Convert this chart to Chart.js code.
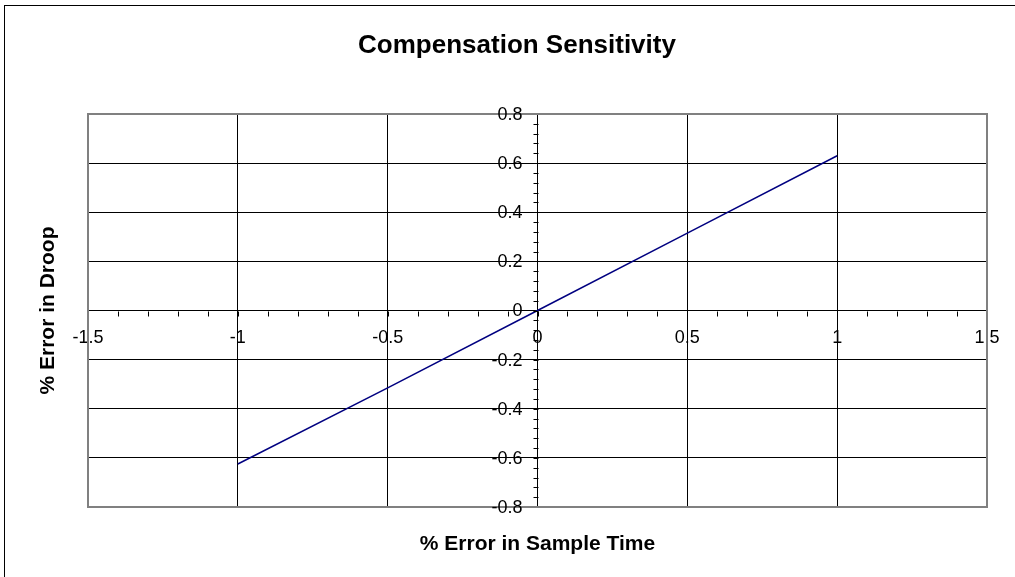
<!DOCTYPE html>
<html>
<head>
<meta charset="utf-8">
<script src="https://cdn.jsdelivr.net/npm/chart.js@4/dist/chart.umd.min.js"></script>
<style>
    html, body { margin: 0; padding: 0; background: #ffffff; }
    #canvas-holder { position: relative; width: 1015px; height: 577px; }
</style>
</head>
<body>
<div id="canvas-holder"><canvas id="chart"></canvas></div>
<script>
const chartTitle = 'Compensation Sensitivity';
const xTitle = '% Error in Sample Time';
const yTitle = '% Error in Droop';

// % error in sample time vs % error in droop
const sampleTimeError = [-1, -0.5, 0, 0.5, 1];
const droopError = [-0.625, -0.315, 0, 0.315, 0.63];

const xTicks = [-1.5, -1, -0.5, 0, 0.5, 1, 1.5];
const yTicks = [-0.8, -0.6, -0.4, -0.2, 0, 0.2, 0.4, 0.6, 0.8];

const FONT = 'Arial, "Liberation Sans", sans-serif';

// minor ticks, y labels, plot frame, titles and outer border (Excel look)
const excelFrame = {
    id: 'excelFrame',
    afterDraw: (chart) => {
        const ctx = chart.ctx;
        const a = chart.chartArea;
        const x = chart.scales.x;
        const y = chart.scales.y;
        const x0 = Math.round(x.getPixelForValue(0)) + 0.5;
        const y0 = Math.round(y.getPixelForValue(0)) + 0.5;
        ctx.save();
        ctx.strokeStyle = '#000000';
        ctx.lineWidth = 1;
        ctx.beginPath();
        for (let i = -15; i <= 15; i++) {
            const px = Math.round(x.getPixelForValue(i / 10)) + 0.5;
            ctx.moveTo(px, y0);
            ctx.lineTo(px, y0 + 5);
        }
        for (let i = -20; i <= 20; i++) {
            const py = Math.round(y.getPixelForValue(i * 0.04)) + 0.5;
            ctx.moveTo(x0, py);
            ctx.lineTo(x0 - 5, py);
        }
        ctx.stroke();

        ctx.strokeStyle = '#808080';
        ctx.lineWidth = 2;
        ctx.strokeRect(a.left, a.top, a.right - a.left, a.bottom - a.top);

        ctx.strokeStyle = '#000000';
        ctx.lineWidth = 1;
        ctx.strokeRect(4.5, 5.5, 1100, 700);

        ctx.fillStyle = '#000000';
        ctx.textBaseline = 'middle';

        // y tick labels sit left of the crossing axis
        ctx.font = '18px ' + FONT;
        ctx.textAlign = 'right';
        yTicks.forEach(v => {
            ctx.fillText(String(v), x0 - 16, y.getPixelForValue(v) + 1);
        });

        ctx.textAlign = 'center';
        ctx.font = 'bold 26px ' + FONT;
        ctx.fillText(chartTitle, 517, 46);

        ctx.font = 'bold 21px ' + FONT;
        ctx.fillText(xTitle, (a.left + a.right) / 2, a.bottom + 37);
        ctx.translate(a.left - 40, (a.top + a.bottom) / 2);
        ctx.rotate(-Math.PI / 2);
        ctx.fillText(yTitle, 0, 0);
        ctx.restore();
    }
};

const config = {
    type: 'scatter',
    data: {
        datasets: [{
            data: sampleTimeError.map((v, i) => ({x: v, y: droopError[i]})),
            showLine: true,
            borderColor: '#000080',
            borderWidth: 1.5,
            pointRadius: 0,
            fill: false
        }]
    },
    options: {
        responsive: true,
        maintainAspectRatio: false,
        animation: false,
        layout: {
            padding: {left: 88, right: 28, top: 114, bottom: 70}
        },
        plugins: {
            legend: {display: false},
            tooltip: {enabled: false},
            title: {display: false}
        },
        scales: {
            x: {
                type: 'linear',
                position: {y: 0},
                min: -1.5,
                max: 1.5,
                afterBuildTicks: (scale) => {
                    scale.ticks = xTicks.map(v => ({value: v}));
                },
                ticks: {
                    color: '#000000',
                    font: {family: FONT, size: 18},
                    padding: 12,
                    maxRotation: 0,
                    autoSkip: false,
                    callback: (v) => String(v)
                },
                grid: {color: '#000000', lineWidth: 1, tickLength: 5},
                border: {color: '#000000', width: 1}
            },
            y: {
                type: 'linear',
                position: {x: 0},
                min: -0.8,
                max: 0.8,
                afterBuildTicks: (scale) => {
                    scale.ticks = yTicks.map(v => ({value: v}));
                },
                ticks: {display: false},
                grid: {color: '#000000', lineWidth: 1, tickLength: 5},
                border: {color: '#000000', width: 1}
            }
        }
    },
    plugins: [excelFrame]
};

window.onload = () => {
    const ctx = document.getElementById('chart').getContext('2d');
    window.myChart = new Chart(ctx, config);
};
</script>
</body>
</html>
